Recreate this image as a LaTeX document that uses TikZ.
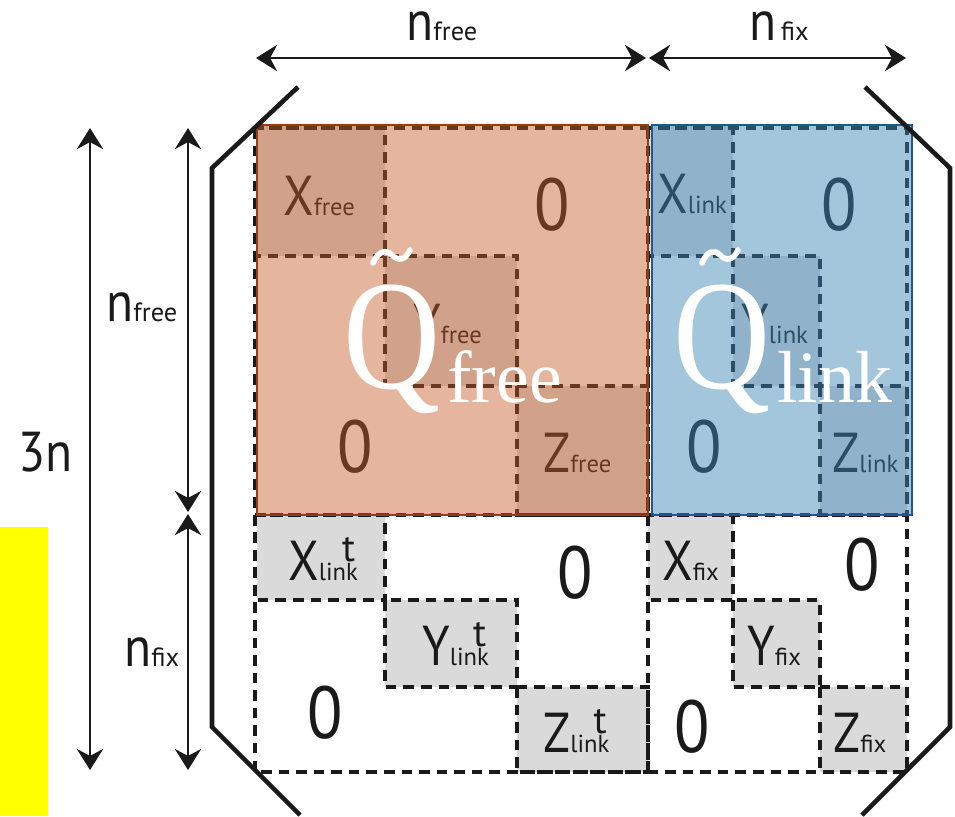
\documentclass[tikz,border=0pt]{standalone}
\usepackage{fontspec}
\usepackage{graphicx}
\setmainfont{PT Sans}[FakeStretch=0.88]
\newfontfamily\idxfont{PT Sans}
\newfontfamily\qfont{Liberation Serif}
\usetikzlibrary{arrows.meta}

\definecolor{blockgray}{HTML}{DADADA}
\definecolor{freetint}{RGB}{200,93,40}
\definecolor{linktint}{RGB}{63,135,185}
\definecolor{freeedge}{HTML}{9A3A12}
\definecolor{linkedge}{HTML}{1D5A8C}
\definecolor{ink}{HTML}{1A1A1A}
\definecolor{marker}{HTML}{FFFF00}

% block label: big letter with a small index on the baseline
\newcommand\blk[2]{{\fontsize{32}{32}\selectfont #1}{\idxfont\fontsize{14}{14}\selectfont #2}}
% same, with a transpose mark stacked over the index
\newcommand\blkt[2]{{\fontsize{32}{32}\selectfont #1}{\idxfont\fontsize{14}{14}\selectfont #2\llap{\raisebox{10.5pt}{\fontsize{22}{22}\selectfont t}\hspace{1.5pt}}}}
\newcommand\zeroblk{\fontsize{42}{42}\selectfont 0}
\newcommand\dimn[2]{{\fontsize{32}{32}\selectfont #1}{\idxfont\fontsize{15}{15}\selectfont #2}}

\begin{document}
\begin{tikzpicture}[x=0.02cm,y=-0.02cm,
  lbl/.style={anchor=base west,inner sep=0pt,text=ink},
  dashline/.style={draw=ink,line width=1.8pt,dash pattern=on 6pt off 4pt},
  grayblock/.style={fill=blockgray},
  bracket/.style={draw=ink,line width=2.6pt},
  dimarrow/.style={draw=ink,line width=1.4pt,{Stealth[length=12pt,width=15pt,inset=4pt]}-{Stealth[length=12pt,width=15pt,inset=4pt]}},
  bigq/.style={anchor=base west,inner sep=0pt,text=white}]

\useasboundingbox (0,0) rectangle (955,816);
\fill[white] (0,0) rectangle (955,816);
\fill[marker] (0,527) rectangle (48,816);

% ---- diagonal blocks
\foreach \xa/\ya/\xb/\yb in {
  257/125/385/256, 385/256/517/386, 517/386/648/515,
  648/125/733/256, 733/256/820/386, 820/386/907/515,
  257/515/385/600, 385/600/517/687, 517/687/648/772,
  648/515/733/600, 733/600/820/687, 820/687/907/772}
  \path[grayblock] (\xa,\ya) rectangle (\xb,\yb);

% ---- dashed block outlines
\draw[dashline] (255,128) rectangle (907,772);
\draw[dashline] (648,128) -- (648,772);
\draw[dashline] (255,515) -- (907,515);
\foreach \xa/\ya/\xb/\yb in {
  255/128/385/256, 385/256/517/386, 517/386/648/515,
  648/128/733/256, 733/256/820/386, 820/386/907/515,
  255/515/385/600, 385/600/517/687, 517/687/648/772,
  648/515/733/600, 733/600/820/687, 820/687/907/772}
  \draw[dashline] (\xa,\ya) rectangle (\xb,\yb);

% ---- block labels
\node[lbl] (xf) at (283,215) {\blk{X}{free}};
\node[lbl] (yf) at (413,343) {\blk{Y}{free}};
\node[lbl] (zf) at (543,472) {\blk{Z}{free}};
\node[lbl] (zf1) at (534,230) {\zeroblk};
\node[lbl] (zf2) at (337,472) {\zeroblk};

\node[lbl] (xl) at (657,213) {\blk{X}{link}};
\node[lbl] (yl) at (741,343) {\blk{Y}{link}};
\node[lbl] (zl) at (832,472) {\blk{Z}{link}};
\node[lbl] (zl1) at (821,230) {\zeroblk};
\node[lbl] (zl2) at (686,472) {\zeroblk};

\node[lbl] (xt) at (288,580) {\blkt{X}{link}};
\node[lbl] (yt) at (422,665) {\blkt{Y}{link}};
\node[lbl] (zt) at (543,752) {\blkt{Z}{link}};
\node[lbl] (zt1) at (557,598) {\zeroblk};
\node[lbl] (zt2) at (307,738) {\zeroblk};

\node[lbl] (xx) at (662,580) {\blk{X}{fix}};
\node[lbl] (yx) at (747,665) {\blk{Y}{fix}};
\node[lbl] (zx) at (833,752) {\blk{Z}{fix}};
\node[lbl] (zx1) at (844,590) {\zeroblk};
\node[lbl] (zx2) at (674,752) {\zeroblk};

% ---- tinted sub-matrices
\fill[freetint,fill opacity=0.45] (257,125) rectangle (648,515);
\fill[linktint,fill opacity=0.475] (652,125) rectangle (912,515);
\draw[freeedge,line width=1.1pt] (257,125) rectangle (648,515);
\draw[linkedge,line width=1.1pt] (652,125) rectangle (912,515);

% ---- white titles of the tinted sub-matrices
\node[bigq] (qf) at (343,388) {\qfont\fontsize{89}{89}\selectfont\scalebox{0.86}[1]{Q}};
\node[bigq] (qfs) at (447,402) {\qfont\fontsize{42}{42}\selectfont free};
\draw[white,line width=3.2pt,line cap=round]
  (373,263) .. controls (378,251) and (386,249) .. (392,255)
  .. controls (398,261) and (405,261) .. (410,250);
\node[bigq] (ql) at (673,388) {\qfont\fontsize{89}{89}\selectfont\scalebox{0.86}[1]{Q}};
\node[bigq] (qls) at (777,402) {\qfont\fontsize{42}{42}\selectfont link};
\draw[white,line width=3.2pt,line cap=round]
  (702,263) .. controls (707,251) and (714,249) .. (720,255)
  .. controls (726,261) and (733,261) .. (738,250);

% ---- outer brackets
\draw[bracket] (298,87) -- (212,168) -- (212,727) -- (300,815);
\draw[bracket] (865,87) -- (950,168) -- (950,727) -- (862,815);

% ---- dimension arrows
\coordinate (tfa) at (256,58);
\coordinate (tfb) at (646,58);
\coordinate (txa) at (649,58);
\coordinate (txb) at (906,58);
\draw[dimarrow] (tfa) -- (tfb);
\draw[dimarrow] (txa) -- (txb);
\node[lbl] (tnf) at (406,40) {\dimn{n}{free}};
\node[lbl] (tnx) at (749,40) {\dimn{n}{\,fix}};

\coordinate (a3a) at (90,128);
\coordinate (a3b) at (90,770);
\coordinate (afa) at (188,128);
\coordinate (afb) at (188,512);
\coordinate (axa) at (188,514);
\coordinate (axb) at (188,770);
\draw[dimarrow] (a3a) -- (a3b);
\draw[dimarrow] (afa) -- (afb);
\draw[dimarrow] (axa) -- (axb);
\node[lbl] (l3n) at (18,471) {\fontsize{32}{32}\selectfont 3n};
\node[lbl] (lnf) at (106,321) {\dimn{n}{free}};
\node[lbl] (lnx) at (124,666) {\dimn{n}{fix}};
\end{tikzpicture}
\end{document}
